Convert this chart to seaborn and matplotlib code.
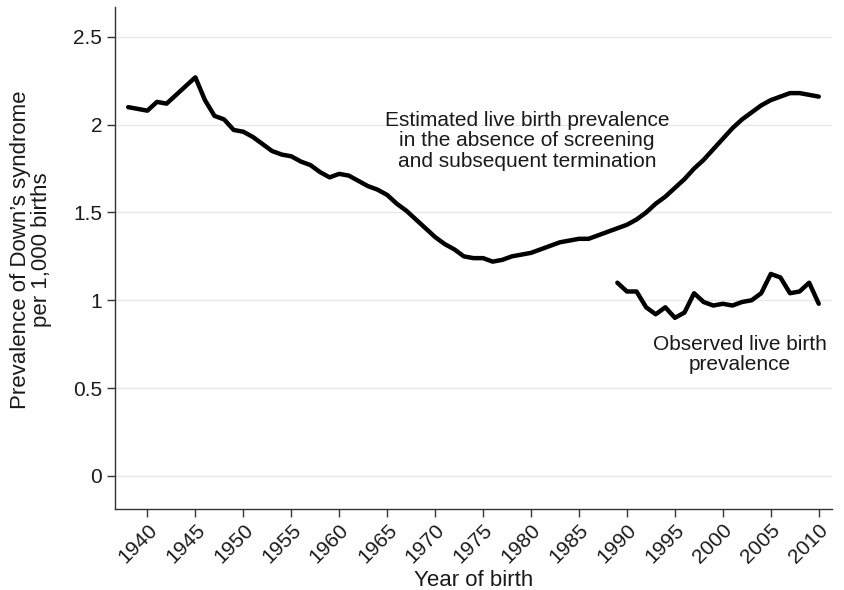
import numpy as np
import pandas as pd
import matplotlib
matplotlib.use("Agg")
import matplotlib.pyplot as plt
import seaborn as sns

# Estimated live birth prevalence without screening (per 1,000 births)
est_years = list(range(1938, 2011))
est_values = [
    2.10, 2.09, 2.08, 2.13, 2.12, 2.17, 2.22, 2.27, 2.14, 2.05,   # 1938-1947
    2.03, 1.97, 1.96, 1.93, 1.89, 1.85, 1.83, 1.82, 1.79, 1.77,   # 1948-1957
    1.73, 1.70, 1.72, 1.71, 1.68, 1.65, 1.63, 1.60, 1.55, 1.51,   # 1958-1967
    1.46, 1.41, 1.36, 1.32, 1.29, 1.25, 1.24, 1.24, 1.22, 1.23,   # 1968-1977
    1.25, 1.26, 1.27, 1.29, 1.31, 1.33, 1.34, 1.35, 1.35, 1.37,   # 1978-1987
    1.39, 1.41, 1.43, 1.46, 1.50, 1.55, 1.59, 1.64, 1.69, 1.75,   # 1988-1997
    1.80, 1.86, 1.92, 1.98, 2.03, 2.07, 2.11, 2.14, 2.16, 2.18,   # 1998-2007
    2.18, 2.17, 2.16,                                             # 2008-2010
]

# Observed live birth prevalence (per 1,000 births)
obs_years = list(range(1989, 2011))
obs_values = [
    1.10, 1.05, 1.05, 0.96, 0.92, 0.96, 0.90, 0.93, 1.04, 0.99,   # 1989-1998
    0.97, 0.98, 0.97, 0.99, 1.00, 1.04, 1.15, 1.13, 1.04, 1.05,   # 1999-2008
    1.10, 0.98,                                                   # 2009-2010
]

x_ticks = list(range(1940, 2011, 5))
y_ticks = [0, 0.5, 1, 1.5, 2, 2.5]
y_tick_labels = ["0", "0.5", "1", "1.5", "2", "2.5"]

sns.set_style("white")
plt.rcParams["font.family"] = ["Liberation Sans", "DejaVu Sans"]

TEXT = "#1a1a1a"
fig = plt.figure(figsize=(8.44, 5.9), dpi=100)
ax = fig.add_axes([0.136, 0.137, 0.850, 0.851])

est = pd.DataFrame({"year": est_years, "value": est_values})
obs = pd.DataFrame({"year": obs_years, "value": obs_values})

for y in y_ticks:
    ax.axhline(y, color="#e8e8e8", lw=1.0, zorder=0)

sns.lineplot(data=est, x="year", y="value", ax=ax, color="black", lw=3.2,
             solid_joinstyle="round", solid_capstyle="round")
sns.lineplot(data=obs, x="year", y="value", ax=ax, color="black", lw=3.2,
             solid_joinstyle="round", solid_capstyle="round")

ax.set_xlim(1936.6, 2011.4)
ax.set_ylim(-0.19, 2.67)
ax.set_xticks(x_ticks)
ax.set_xticklabels([str(t) for t in x_ticks], rotation=45, ha="right",
                   rotation_mode="anchor", fontsize=15, color=TEXT)
ax.set_yticks(y_ticks)
ax.set_yticklabels(y_tick_labels, fontsize=15, color=TEXT)
ax.tick_params(axis="both", which="major", direction="out", length=6,
               width=1.0, color="#333333", left=True, bottom=True)
ax.tick_params(axis="y", pad=3)
ax.tick_params(axis="x", pad=2)

for side in ("top", "right"):
    ax.spines[side].set_visible(False)
for side in ("left", "bottom"):
    ax.spines[side].set_color("#333333")
    ax.spines[side].set_linewidth(1.0)

ax.set_xlabel("Year of birth", fontsize=16, color=TEXT)
ax.xaxis.set_label_coords(0.5, -0.122)
ax.set_ylabel("Prevalence of Down\u2019s syndrome\nper 1,000 births",
              fontsize=16, color=TEXT, linespacing=1.0)
ax.yaxis.set_label_coords(-0.088, 0.516)

ax.text(1979.6, 1.91, "Estimated live birth prevalence\nin the absence of screening\nand subsequent termination",
        ha="center", va="center", fontsize=15, color=TEXT, linespacing=1.1)
ax.text(2001.8, 0.69, "Observed live birth\nprevalence",
        ha="center", va="center", fontsize=15, color=TEXT, linespacing=1.1)

fig.savefig("out.png", dpi=100, facecolor="white")
